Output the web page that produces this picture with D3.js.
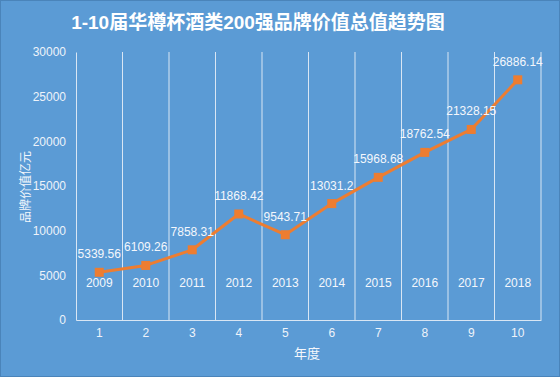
<!DOCTYPE html>
<html><head><meta charset="utf-8">
<script src="https://cdn.jsdelivr.net/npm/d3@7"></script>
<style>body{margin:0;background:#fff}svg{display:block}</style>
</head><body>
<script>
const categories = ["1","2","3","4","5","6","7","8","9","10"];
const years = ["2009","2010","2011","2012","2013","2014","2015","2016","2017","2018"];
const values = [5339.56,6109.26,7858.31,11868.42,9543.71,13031.2,15968.68,18762.54,21328.15,26886.14];
const yTicks = [0,5000,10000,15000,20000,25000,30000];
const title = "1-10届华樽杯酒类200强品牌价值总值趋势图";
const yTitle = "品牌价值亿元";
const xTitle = "年度";

const W = 560, H = 377;
const svg = d3.select("body").append("svg").attr("width", W).attr("height", H);
const font = "'Liberation Sans','Noto Sans CJK SC',sans-serif";
svg.append("rect").attr("x",0.5).attr("y",0.5).attr("width",W-1).attr("height",H-1)
  .attr("fill","#5B9BD5").attr("stroke","#4A84BA");

const x = d3.scaleBand().domain(categories).range([76,541]).padding(0);
const y = d3.scaleLinear().domain([0,30000]).range([320,52]);
const lineCol = "#D9E6F4";

const g = svg.append("g");
categories.forEach((c,i)=>{
  const bx = x(c) + x.bandwidth();
  g.append("line").attr("x1",bx).attr("x2",bx).attr("y1",y(30000)).attr("y2",y(0))
    .attr("stroke",lineCol).attr("stroke-width",1);
});
const yAxis = svg.append("g").attr("transform","translate(76,0)")
  .call(d3.axisLeft(y).tickValues(yTicks).tickSize(0).tickPadding(10).tickFormat(d3.format("d")));
yAxis.select(".domain").attr("stroke",lineCol);
yAxis.selectAll("text").attr("fill","#EEF3FA").attr("font-size",12).attr("font-family",font);
const xAxis = svg.append("g").attr("transform","translate(0,320)")
  .call(d3.axisBottom(x).tickSize(0).tickPadding(8));
xAxis.select(".domain").attr("stroke",lineCol);
xAxis.selectAll("text").attr("fill","#EEF3FA").attr("font-size",12).attr("font-family",font);

svg.append("g").selectAll("text").data(years).join("text")
  .attr("x",(d,i)=>x(categories[i])+x.bandwidth()/2).attr("y",287)
  .attr("text-anchor","middle").attr("fill","#F4F7FC").attr("font-size",12).attr("font-family",font)
  .text(d=>d);

const cx = (d,i)=>x(categories[i])+x.bandwidth()/2;
svg.append("path").datum(values)
  .attr("d", d3.line().x(cx).y(d=>y(d)))
  .attr("fill","none").attr("stroke","#ED7D31").attr("stroke-width",3).attr("stroke-linejoin","round");
svg.append("g").selectAll("rect").data(values).join("rect")
  .attr("x",(d,i)=>cx(d,i)-4.5).attr("y",d=>y(d)-4.5).attr("width",9).attr("height",9)
  .attr("fill","#ED7D31");
svg.append("g").selectAll("text").data(values).join("text")
  .attr("x",cx).attr("y",d=>y(d)-14)
  .attr("text-anchor","middle").attr("fill","#F4F7FC").attr("font-size",12).attr("font-family",font)
  .text(d=>String(d));

svg.append("text").attr("x",258).attr("y",29).attr("text-anchor","middle")
  .attr("fill","#FFFFFF").attr("font-size",19).attr("font-weight","bold").attr("font-family",font)
  .text(title);
svg.append("text").attr("transform","translate(30,187) rotate(-90)").attr("text-anchor","middle")
  .attr("fill","#F4F7FC").attr("font-size",12).attr("font-family",font).text(yTitle);
svg.append("text").attr("x",307).attr("y",358).attr("text-anchor","middle")
  .attr("fill","#F4F7FC").attr("font-size",13).attr("font-family",font).text(xTitle);
</script>
</body></html>
